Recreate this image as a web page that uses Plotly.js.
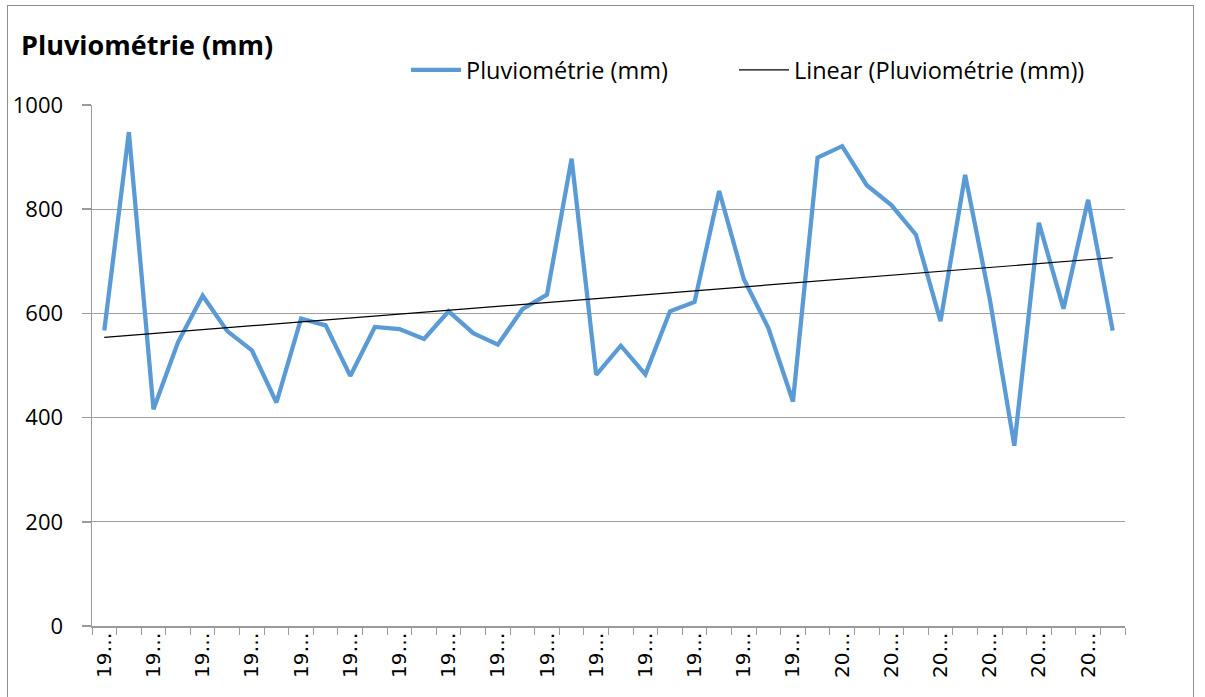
<!DOCTYPE html>
<html>
<head>
<meta charset="utf-8">
<script src="https://cdn.plot.ly/plotly-3.0.1.min.js"></script>
<style>
  html, body { margin: 0; padding: 0; background: #ffffff; }
  #frame { position: absolute; left: 7px; top: 5px; width: 1187px; height: 720px; border: 1.5px solid #8e8e8e; box-sizing: border-box; }
  #chart { position: absolute; left: 0; top: 0; width: 1205px; height: 697px; }
</style>
</head>
<body>
<div id="frame"></div>
<div id="chart"></div>
<script>
// Years (categories)
const years = [1970, 1971, 1972, 1973, 1974, 1975, 1976, 1977, 1978, 1979,
               1980, 1981, 1982, 1983, 1984, 1985, 1986, 1987, 1988, 1989,
               1990, 1991, 1992, 1993, 1994, 1995, 1996, 1997, 1998, 1999,
               2000, 2001, 2002, 2003, 2004, 2005, 2006, 2007, 2008, 2009,
               2010, 2011];
// Rainfall (mm)
const pluvio = [567, 948, 416, 545, 634, 566, 529, 429, 590, 577,
                480, 574, 570, 551, 604, 562, 540, 608, 636, 897,
                482, 538, 483, 604, 622, 835, 666, 572, 431, 899,
                921, 846, 808, 751, 585, 866, 628, 346, 774, 609,
                818, 567];
// Tick labels as truncated in the original (shown every other year)
const tickYears = years.filter((y, i) => i % 2 === 0);
const tickLabels = tickYears.map(y => String(y).slice(0, 2) + '…');

const seriesName = 'Pluviométrie (mm)';
const trendName = 'Linear (Pluviométrie (mm))';

// Linear trendline (least squares on category index, like Excel)
const n = pluvio.length;
const idx = pluvio.map((v, i) => i + 1);
const mx = idx.reduce((a, b) => a + b, 0) / n;
const my = pluvio.reduce((a, b) => a + b, 0) / n;
let sxy = 0, sxx = 0;
for (let i = 0; i < n; i++) { sxy += (idx[i] - mx) * (pluvio[i] - my); sxx += (idx[i] - mx) * (idx[i] - mx); }
const slope = sxy / sxx;
const intercept = my - slope * mx;
const trend = idx.map(x => intercept + slope * x);

const tickFont = { family: 'Open Sans, sans-serif', size: 22, color: '#000000' };
const legendFont = { family: 'Open Sans, sans-serif', size: 23.5, color: '#000000' };

const data = [
  { x: years, y: pluvio, type: 'scatter', mode: 'lines', name: seriesName,
    line: { color: '#5B9BD5', width: 4.3 }, legend: 'legend' },
  { x: years, y: trend, type: 'scatter', mode: 'lines', name: trendName,
    line: { color: '#000000', width: 1.2 }, legend: 'legend2' }
];

const layout = {
  width: 1205, height: 697,
  margin: { l: 92, r: 80, t: 105, b: 71 },
  paper_bgcolor: 'rgba(0,0,0,0)',
  plot_bgcolor: '#ffffff',
  showlegend: true,
  title: {
    text: '<b>Pluviométrie (mm)</b>',
    font: { family: 'Open Sans, sans-serif', size: 27, color: '#000000' },
    xref: 'container', yref: 'container',
    x: 21 / 1205, xanchor: 'left',
    y: 1 - 46 / 697, yanchor: 'middle'
  },
  legend: {
    orientation: 'h',
    xref: 'container', yref: 'container',
    x: 406 / 1205, xanchor: 'left',
    y: 1 - 70 / 697, yanchor: 'middle',
    font: legendFont,
    bgcolor: 'rgba(0,0,0,0)',
    itemwidth: 50
  },
  legend2: {
    orientation: 'h',
    xref: 'container', yref: 'container',
    x: 734 / 1205, xanchor: 'left',
    y: 1 - 70 / 697, yanchor: 'middle',
    font: legendFont,
    bgcolor: 'rgba(0,0,0,0)',
    itemwidth: 50
  },
  xaxis: {
    type: 'linear',
    range: [years[0] - 0.5, years[years.length - 1] + 0.5],
    tickmode: 'array',
    tickvals: tickYears,
    ticktext: tickLabels,
    tickangle: -90,
    ticks: '',
    ticklabelstandoff: -3,
    tickfont: { family: 'DejaVu Sans, sans-serif', size: 20, color: '#000000' },
    showgrid: false,
    zeroline: false,
    showline: true, linecolor: '#9a9a9a', linewidth: 1.5,
    minor: { tickmode: 'linear', tick0: years[0] - 0.5, dtick: 1, ticks: 'outside', ticklen: 7, tickcolor: '#9a9a9a', tickwidth: 1, showgrid: false },
    fixedrange: true
  },
  yaxis: {
    range: [0, 1000],
    tickmode: 'linear', tick0: 0, dtick: 200,
    ticks: 'outside', ticklen: 9, tickcolor: '#9a9a9a', tickwidth: 1.5,
    ticklabelstandoff: 14,
    tickfont: tickFont,
    showgrid: true, gridcolor: '#a0a0a0', gridwidth: 1.3,
    zeroline: false,
    showline: true, linecolor: '#9a9a9a', linewidth: 1.5,
    fixedrange: true
  }
};

Plotly.newPlot('chart', data, layout, { displayModeBar: false, staticPlot: true });
</script>
</body>
</html>
